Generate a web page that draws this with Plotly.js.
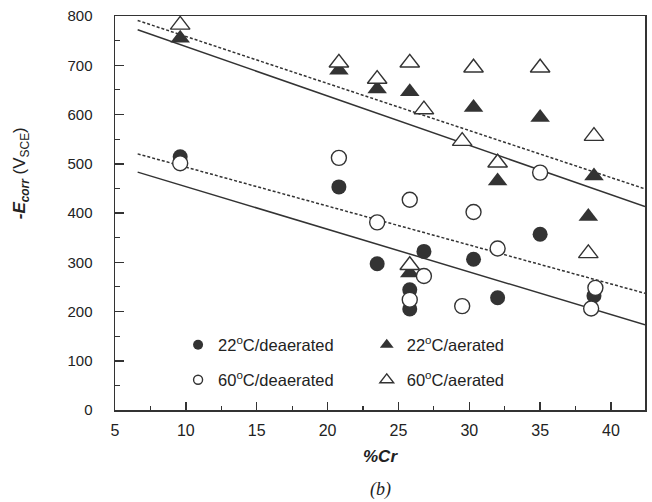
<!DOCTYPE html>
<html>
<head>
<meta charset="utf-8">
<script src="https://cdn.plot.ly/plotly-3.0.1.min.js"></script>
<style>
  html, body { margin: 0; padding: 0; background: #fff; }
  #chart { width: 652px; height: 502px; }
</style>
</head>
<body>
<div id="chart"></div>
<script>
// Corrosion potential vs chromium content
const cr22Deaerated = [9.6, 20.8, 23.5, 25.8, 25.8, 26.8, 30.3, 32.0, 35.0, 38.8];
const e22Deaerated  = [514, 453, 297, 244, 205, 322, 306, 228, 357, 232];

const cr22Aerated = [9.6, 20.8, 23.5, 25.8, 25.8, 30.3, 32.0, 35.0, 38.4, 38.8];
const e22Aerated  = [755, 690, 652, 646, 278, 614, 465, 594, 393, 475];

const cr60Deaerated = [9.6, 20.8, 23.5, 25.8, 25.8, 26.8, 29.5, 30.3, 32.0, 35.0, 38.9, 38.6];
const e60Deaerated  = [501, 512, 381, 427, 224, 272, 211, 402, 328, 482, 248, 206];

const cr60Aerated = [9.6, 20.8, 23.5, 25.8, 25.8, 26.8, 29.5, 30.3, 32.0, 35.0, 38.4, 38.8];
const e60Aerated  = [782, 705, 672, 705, 294, 610, 546, 695, 502, 695, 318, 556];

// Linear fits (solid: 22 °C, dotted: 60 °C)
const fitCr = [6.6, 42.4];
const fitAerated22   = [772, 413];
const fitAerated60   = [791, 449];
const fitDeaerated22 = [483, 173];
const fitDeaerated60 = [520, 237];

const legendNames = ['22<sup>o</sup>C/deaerated', '22<sup>o</sup>C/aerated',
                     '60<sup>o</sup>C/deaerated', '60<sup>o</sup>C/aerated'];

const ink = '#333333';
const font = 'Liberation Sans, Arial, sans-serif';

function fitLine(y, dash) {
  return {
    x: fitCr, y: y, mode: 'lines', showlegend: false, hoverinfo: 'skip',
    line: { color: ink, width: 1.5, dash: dash }
  };
}

function markerStyle(symbol, filled, size) {
  return {
    symbol: symbol, size: size,
    color: filled ? ink : '#ffffff',
    line: { color: ink, width: filled ? 0 : 1.4 }
  };
}

function points(x, y, symbol, filled, size) {
  return {
    x: x, y: y, mode: 'markers', showlegend: false,
    marker: markerStyle(symbol, filled, size)
  };
}

// legend entries use smaller symbols than the data markers
function key(name, symbol, filled, size, legend) {
  return {
    x: [null], y: [null], name: name, mode: 'markers', legend: legend,
    marker: markerStyle(symbol, filled, size)
  };
}

const traces = [
  fitLine(fitAerated22, 'solid'),
  fitLine(fitAerated60, '3px,2px'),
  fitLine(fitDeaerated22, 'solid'),
  fitLine(fitDeaerated60, '3px,2px'),
  points(cr22Deaerated, e22Deaerated, 'circle', true, 15),
  points(cr22Aerated, e22Aerated, 'triangle-up', true, 17),
  points(cr60Deaerated, e60Deaerated, 'circle', false, 15),
  points(cr60Aerated, e60Aerated, 'triangle-up', false, 17),
  key(legendNames[0], 'circle', true, 10, 'legend'),
  key(legendNames[1], 'triangle-up', true, 12, 'legend2'),
  key(legendNames[2], 'circle', false, 9, 'legend3'),
  key(legendNames[3], 'triangle-up', false, 12, 'legend4')
];

function legendAt(x, y) {
  return {
    x: x, y: y, xanchor: 'left', yanchor: 'middle',
    bgcolor: 'rgba(0,0,0,0)', borderwidth: 0, itemsizing: 'trace',
    font: { family: font, size: 16.5, color: '#222' }
  };
}

const layout = {
  width: 652, height: 502,
  margin: { l: 115, r: 7, t: 16, b: 92 },
  paper_bgcolor: '#ffffff', plot_bgcolor: '#ffffff',
  font: { family: font, color: '#222' },
  xaxis: {
    range: [5, 42.4], dtick: 5, tick0: 5,
    ticks: 'inside', ticklen: 8, tickwidth: 1.5, tickcolor: ink,
    minor: { dtick: 2.5, ticks: 'inside', ticklen: 4, tickwidth: 1.2, tickcolor: ink },
    showline: true, linecolor: ink, linewidth: 1.5, mirror: true,
    showgrid: false, zeroline: false,
    ticklabelstandoff: 5,
    tickfont: { family: font, size: 16, color: '#222' },
    title: { text: '<b><i>%Cr</i></b>', font: { family: font, size: 17, color: '#222' }, standoff: 12 }
  },
  yaxis: {
    range: [0, 800], dtick: 100,
    ticks: 'inside', ticklen: 9, tickwidth: 1.5, tickcolor: ink,
    minor: { dtick: 50, ticks: 'inside', ticklen: 5, tickwidth: 1.2, tickcolor: ink },
    showline: true, linecolor: ink, linewidth: 1.5, mirror: true,
    showgrid: false, zeroline: false,
    ticklabelstandoff: 18,
    tickfont: { family: font, size: 15, color: '#222' }
  },
  legend:  legendAt(0.119, 0.165),
  legend2: legendAt(0.475, 0.165),
  legend3: legendAt(0.119, 0.076),
  legend4: legendAt(0.475, 0.076),
  annotations: [
    {
      xref: 'paper', yref: 'paper', x: -0.178, y: 0.60, xanchor: 'center', yanchor: 'middle',
      textangle: -90, showarrow: false,
      text: '<b><i>-E<sub>corr</sub></i></b> (V<sub>SCE</sub>)',
      font: { family: font, size: 17, color: '#222' }
    },
    {
      xref: 'paper', yref: 'paper', x: 0.5, y: -0.203, xanchor: 'center', yanchor: 'middle',
      showarrow: false, text: '<i>(b)</i>',
      font: { family: 'Liberation Serif, Times New Roman, serif', size: 18, color: '#222' }
    }
  ]
};

Plotly.newPlot('chart', traces, layout, { displayModeBar: false, staticPlot: true });
</script>
</body>
</html>
